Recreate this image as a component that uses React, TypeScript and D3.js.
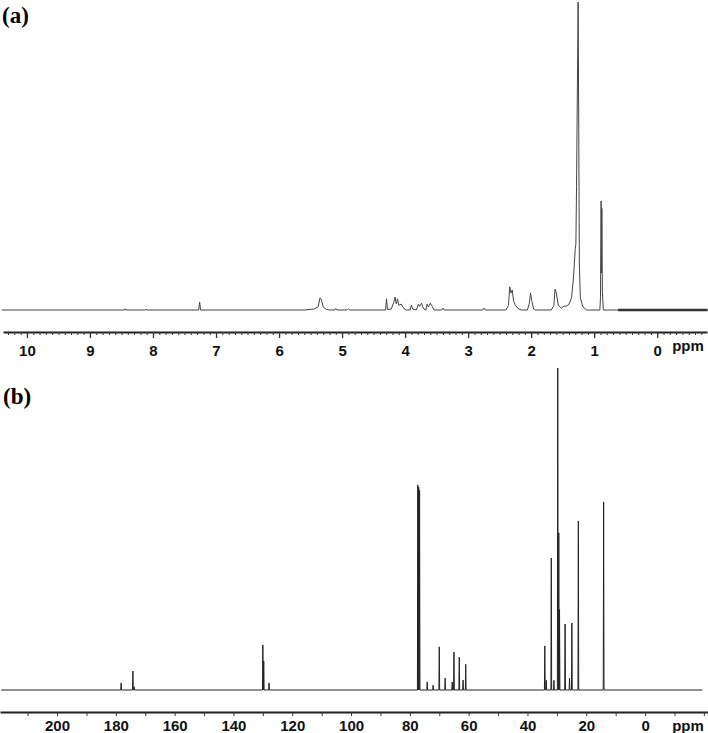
import React, { useEffect, useRef } from "react";
import * as d3 from "d3";

// 1H spectrum (a): [ppm, intensity %] vertices
const protonSpectrum: [number, number][] = [
  [10.4, 0], [8.45, 0], [8.44, 0.4], [8.43, 0], [8.12, 0], [8.11, 0.3], [8.1, 0],
  [7.275, 0], [7.26, 2.6], [7.245, 0],
  [5.6, 0], [5.45, 0.3], [5.38, 1], [5.35, 3.9], [5.33, 3.5], [5.3, 1], [5.25, 0.2], [5.2, 0],
  [5.12, 0], [5.1, 0.5], [5.08, 0], [4.92, 0], [4.9, 0.4], [4.88, 0],
  [4.31, 0], [4.295, 3.6], [4.28, 0.2], [4.22, 0.3], [4.18, 2.5], [4.16, 4.2], [4.14, 2.0],
  [4.12, 3.6], [4.1, 1.5], [4.06, 1.9], [4.02, 0.5], [3.98, 0],
  [3.92, 0], [3.9, 1.6], [3.88, 0.3], [3.82, 0], [3.79, 1.9], [3.77, 1.2], [3.74, 2.2],
  [3.72, 1.0], [3.7, 0.3], [3.67, 0], [3.65, 1.9], [3.63, 1.0], [3.6, 2.2], [3.57, 1.2], [3.54, 0],
  [3.42, 0], [3.4, 0.6], [3.38, 0], [2.77, 0], [2.75, 0.6], [2.73, 0],
  [2.4, 0], [2.36, 1.5], [2.34, 7.5], [2.32, 5.5], [2.3, 6.5], [2.28, 3], [2.25, 1.5], [2.2, 0.3], [2.15, 0],
  [2.06, 0], [2.03, 2], [2.01, 5.5], [1.99, 3], [1.96, 0.3], [1.93, 0],
  [1.68, 0], [1.64, 1.5], [1.62, 6.8], [1.6, 5.5], [1.57, 1.5], [1.52, 0.6], [1.48, 1.3],
  [1.45, 1.2], [1.4, 1.8], [1.36, 4], [1.33, 10], [1.3, 20], [1.29, 21.4], [1.28, 40],
  [1.255, 100], [1.245, 60], [1.235, 15], [1.22, 4], [1.18, 1], [1.12, 0],
  [0.91, 0], [0.9, 4], [0.89, 35.4], [0.885, 12], [0.878, 33], [0.87, 6], [0.855, 0],
  [0.62, 0],
];
const protonTail: [number, number][] = [[0.62, 0], [-0.8, 0]];

// 13C spectrum (b): line positions (ppm) and heights (% of tallest)
const carbonPpm = [
  178.2, 174.2, 173.8, 130.0, 129.7, 127.9, 77.3, 77.0, 76.7, 74.1, 72.1, 70.0, 68.0,
  65.6, 65.0, 63.2, 61.9, 61.0, 34.1, 33.6, 31.9, 31.0, 29.7, 29.35, 29.1, 27.2, 25.7,
  24.9, 22.7, 14.1,
];
const carbonHeight = [
  2.2, 5.9, 1.0, 14, 9, 2.2, 63.7, 63, 62, 2.5, 1.5, 13.4, 3.7,
  2.5, 11.8, 10.2, 3.1, 8, 13.7, 3, 41, 3, 100, 48.8, 25, 20.5, 3.7,
  20.8, 52.5, 58.4,
];

const ticksA = d3.range(0, 11);
const ticksB = d3.range(0, 201, 20);

const sans = "Liberation Sans, Arial, sans-serif";
const serif = "Liberation Serif, Times New Roman, serif";

export default function App() {
  const ref = useRef<SVGSVGElement>(null);

  useEffect(() => {
    const svg = d3.select(ref.current);
    svg.selectAll("*").remove();

    // ---------- panel (a) ----------
    const xA = d3.scaleLinear().domain([10.38, -0.79]).range([3, 707]);
    const yA = d3.scaleLinear().domain([0, 100]).range([310, 2]);
    const lineA = d3.line<[number, number]>().x(d => xA(d[0])).y(d => yA(d[1]));

    svg.append("path").attr("d", lineA(protonSpectrum)).attr("fill", "none")
      .attr("stroke", "#444").attr("stroke-width", 1);
    svg.append("path").attr("d", lineA(protonTail)).attr("fill", "none")
      .attr("stroke", "#333").attr("stroke-width", 2.5);

    const minorA = d3.range(-7, 104).map(v => v / 10);
    svg.append("g").attr("transform", "translate(0,332)")
      .call(d3.axisBottom(xA).tickValues(minorA).tickSize(3).tickSizeOuter(0).tickFormat(() => ""))
      .call(g => g.select(".domain").attr("stroke", "#222").attr("stroke-width", 2))
      .call(g => g.selectAll(".tick line").attr("stroke", "#333"));
    svg.append("g").attr("transform", "translate(0,332)")
      .call(d3.axisBottom(xA).tickValues(ticksA).tickSize(6).tickPadding(7).tickSizeOuter(0).tickFormat(d3.format("d")))
      .call(g => g.select(".domain").remove())
      .call(g => g.selectAll(".tick line").attr("stroke", "#333").attr("stroke-width", 1.3))
      .call(g => g.selectAll("text").attr("font-family", sans)
        .attr("font-size", 15).attr("font-weight", "bold").attr("fill", "#111"));
    svg.append("text").attr("x", 688).attr("y", 351).attr("text-anchor", "middle")
      .attr("font-family", sans).attr("font-size", 15)
      .attr("font-weight", "bold").attr("fill", "#111").text("ppm");

    svg.append("text").attr("x", 2).attr("y", 23)
      .attr("font-family", serif).attr("font-size", 23)
      .attr("font-weight", "bold").text("(a)");

    // ---------- panel (b) ----------
    const xB = d3.scaleLinear().domain([219.4, -21.4]).range([0, 708]);
    const yB = d3.scaleLinear().domain([0, 100]).range([690, 368]);
    const w = 0.13;
    const ptsB: [number, number][] = [[219, 0]];
    carbonPpm.forEach((p, i) => {
      ptsB.push([p + w, 0], [p, carbonHeight[i]], [p - w, 0]);
    });
    ptsB.push([-19.5, 0]);
    const lineB = d3.line<[number, number]>().x(d => xB(d[0])).y(d => yB(d[1]));
    svg.append("path").attr("d", lineB(ptsB)).attr("fill", "none")
      .attr("stroke", "#222").attr("stroke-width", 1);

    svg.append("g").attr("transform", "translate(0,712)")
      .call(d3.axisBottom(xB).tickValues(d3.range(-20, 220, 10)).tickSize(4).tickSizeOuter(0).tickFormat(() => ""))
      .call(g => g.select(".domain").attr("stroke", "#222").attr("stroke-width", 2))
      .call(g => g.selectAll(".tick line").attr("stroke", "#333"));
    svg.append("g").attr("transform", "translate(0,712)")
      .call(d3.axisBottom(xB).tickValues(ticksB).tickSize(0).tickPadding(8).tickSizeOuter(0).tickFormat(d3.format("d")))
      .call(g => g.select(".domain").remove())
      .call(g => g.selectAll("text").attr("font-family", sans)
        .attr("font-size", 15).attr("font-weight", "bold").attr("fill", "#111"));
    svg.append("text").attr("x", 688).attr("y", 731).attr("text-anchor", "middle")
      .attr("font-family", sans).attr("font-size", 15)
      .attr("font-weight", "bold").attr("fill", "#111").text("ppm");

    svg.append("text").attr("x", 3).attr("y", 404)
      .attr("font-family", serif).attr("font-size", 23)
      .attr("font-weight", "bold").text("(b)");
  }, []);

  return (
    <svg ref={ref} width={708} height={733}
      style={{ position: "absolute", left: 0, top: 0, background: "#fff" }} />
  );
}
